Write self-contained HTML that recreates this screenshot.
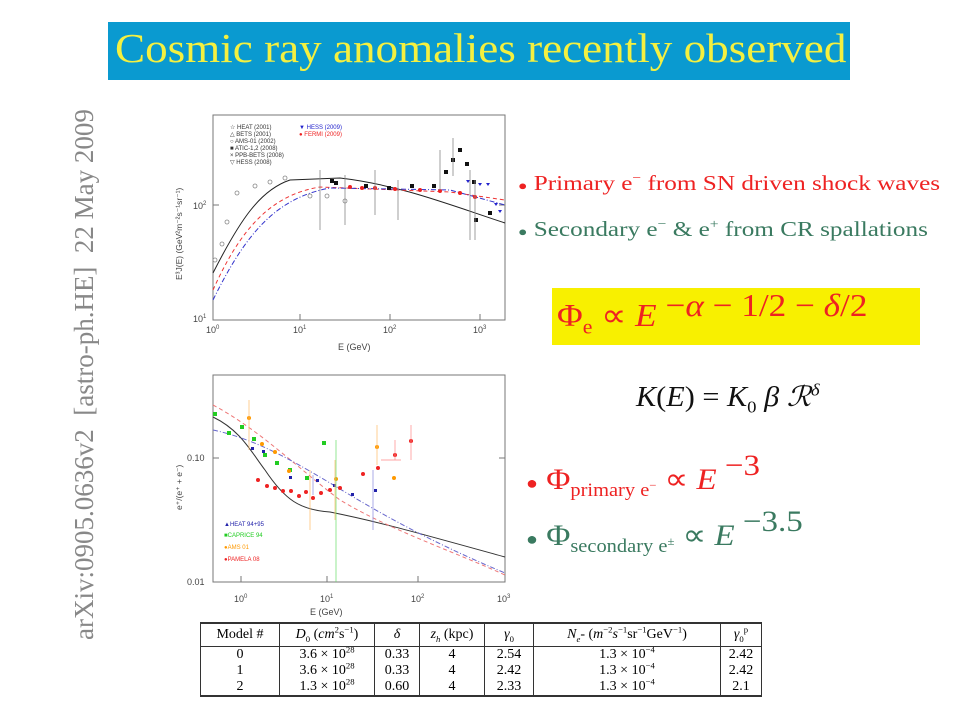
<!DOCTYPE html>
<html><head><meta charset="utf-8"><style>
body{margin:0;width:960px;height:720px;background:#fff;position:relative;overflow:hidden;font-family:"Liberation Serif",serif}
.a{position:absolute;white-space:nowrap}
sub,sup{font-size:62%}
table sub,table sup{line-height:0}
table td{padding:0 1px;height:16px}
</style></head><body>
<div class="a" style="left:108px;top:22px;width:742px;height:58px;background:#0a9ad0"></div>
<div class="a" style="left:115px;top:24px;font-size:41px;color:#f4f040;transform:scaleX(1.1);transform-origin:0 0">Cosmic ray anomalies recently observed</div>
<div class="a" style="left:64px;top:640px;transform:rotate(-90deg);transform-origin:0 0;font-size:27px;color:#888;line-height:40px">arXiv:0905.0636v2 &nbsp;[astro-ph.HE] &nbsp;22 May 2009</div>

<div class="a" style="left:518px;top:170px;font-size:21px;color:#e22;transform:scaleX(1.2);transform-origin:0 0"><span style="font-size:13px">●</span> Primary e<sup>−</sup> from SN driven shock waves</div>
<div class="a" style="left:518px;top:216px;font-size:21px;color:#3a7a60;transform:scaleX(1.2);transform-origin:0 0"><span style="font-size:13px">●</span> Secondary e<sup>−</sup> &amp; e<sup>+</sup> from CR spallations</div>
<div class="a" style="left:552px;top:288px;width:368px;height:57px;background:#f8f000"></div>
<div class="a" style="left:557px;top:296px;font-size:32px;color:#e22;transform:scaleX(1.1);transform-origin:0 0">Φ<sub>e</sub> ∝ <i>E</i><span style="position:relative;top:-10px"> −<i>α</i> − 1/2 − <i>δ</i>/2</span></div>
<div class="a" style="left:636px;top:380px;font-size:28px;color:#111;transform:scaleX(1.08);transform-origin:0 0"><i>K</i>(<i>E</i>) = <i>K</i><sub>0</sub> <i>β</i> <i>ℛ</i><sup><i>δ</i></sup></div>
<div class="a" style="left:526px;top:462px;font-size:30px;color:#e22;transform:scaleX(1.1);transform-origin:0 0"><span style="font-size:18px">●</span> Φ<sub>primary e<sup>−</sup></sub> ∝ <i>E</i><span style="position:relative;top:-14px"> −3</span></div>
<div class="a" style="left:526px;top:518px;font-size:30px;color:#3a7a60;transform:scaleX(1.1);transform-origin:0 0"><span style="font-size:18px">●</span> Φ<sub>secondary e<sup>±</sup></sub> ∝ <i>E</i><span style="position:relative;top:-14px"> −3.5</span></div>

<svg class="a" style="left:0;top:0" width="960" height="720" font-family="Liberation Sans, sans-serif">
<rect x="213" y="115" width="292" height="205" fill="none" stroke="#777" stroke-width="1"/>
<g stroke="#777"><line x1="300" y1="320" x2="300" y2="314"/><line x1="390" y1="320" x2="390" y2="314"/><line x1="480" y1="320" x2="480" y2="314"/>
<line x1="213" y1="205" x2="219" y2="205"/><line x1="499" y1="205" x2="505" y2="205"/></g>
<g font-size="9" fill="#444"><text x="206" y="333">10<tspan dy="-4" font-size="6">0</tspan></text><text x="293" y="333">10<tspan dy="-4" font-size="6">1</tspan></text><text x="383" y="333">10<tspan dy="-4" font-size="6">2</tspan></text><text x="473" y="333">10<tspan dy="-4" font-size="6">3</tspan></text>
<text x="193" y="209">10<tspan dy="-4" font-size="6">2</tspan></text><text x="193" y="322">10<tspan dy="-4" font-size="6">1</tspan></text>
<text x="338" y="350">E (GeV)</text>
<text transform="translate(182,280) rotate(-90)" font-size="8.5">E³J(E) (GeV²m⁻²s⁻¹sr⁻¹)</text></g>
<g font-size="6" fill="#333"><text x="230" y="129">☆ HEAT (2001)</text><text x="230" y="136">△ BETS (2001)</text><text x="230" y="143">○ AMS-01 (2002)</text><text x="230" y="150">■ ATIC-1,2 (2008)</text><text x="230" y="157">× PPB-BETS (2008)</text><text x="230" y="164">▽ HESS (2008)</text>
<text x="299" y="129" fill="#22c">▼ HESS (2009)</text><text x="299" y="136" fill="#e22">● FERMI (2009)</text></g>
<path d="M213,273 C240,220 260,190 290,180 L340,178 C400,185 450,205 505,223" fill="none" stroke="#222"/>
<path d="M213,290 C240,230 270,195 320,187 L450,192 L505,200" fill="none" stroke="#e33" stroke-dasharray="4,3"/>
<path d="M213,300 C245,235 275,198 330,188 L450,190 L505,205" fill="none" stroke="#33c" stroke-dasharray="5,2,1,2"/>
<g fill="#111"><rect x="334" y="181" width="4" height="4"/><rect x="364" y="184" width="4" height="4"/><rect x="387" y="186" width="4" height="4"/><rect x="410" y="184" width="4" height="4"/><rect x="432" y="184" width="4" height="4"/><rect x="444" y="170" width="4" height="4"/><rect x="451" y="158" width="4" height="4"/><rect x="458" y="148" width="4" height="4"/><rect x="465" y="162" width="4" height="4"/><rect x="472" y="180" width="4" height="4"/><rect x="474" y="218" width="4" height="4"/><rect x="488" y="211" width="4" height="4"/><rect x="330" y="179" width="4" height="4"/></g>
<g fill="#e22"><circle cx="350" cy="187" r="2"/><circle cx="362" cy="188" r="2"/><circle cx="375" cy="188" r="2"/><circle cx="395" cy="189" r="2"/><circle cx="420" cy="190" r="2"/><circle cx="440" cy="191" r="2"/><circle cx="460" cy="193" r="2"/><circle cx="475" cy="197" r="2"/></g>
<g fill="#22c"><path d="M466,180 l4,0 -2,3z"/><path d="M478,183 l4,0 -2,3z"/><path d="M486,183 l4,0 -2,3z"/><path d="M494,203 l4,0 -2,3z"/><path d="M498,210 l4,0 -2,3z"/></g>
<g fill="none" stroke="#888" stroke-width="0.8"><circle cx="227" cy="222" r="2"/><circle cx="222" cy="244" r="2"/><circle cx="215" cy="260" r="2"/><circle cx="237" cy="193" r="2"/><circle cx="255" cy="186" r="2"/><circle cx="270" cy="182" r="2"/><circle cx="285" cy="178" r="2"/><circle cx="310" cy="196" r="2"/><circle cx="327" cy="196" r="2"/><circle cx="345" cy="201" r="2"/>
<path d="M320,170 v60 M345,175 v50 M375,170 v45 M398,180 v40 M470,170 v70 M475,180 v60 M440,150 v40 M453,138 v38"/></g>

<rect x="213" y="375" width="292" height="207" fill="none" stroke="#777"/>
<g stroke="#777"><line x1="241" y1="582" x2="241" y2="576"/><line x1="327" y1="582" x2="327" y2="576"/><line x1="418" y1="582" x2="418" y2="576"/>
<line x1="213" y1="458" x2="219" y2="458"/><line x1="499" y1="458" x2="505" y2="458"/></g>
<g font-size="9" fill="#444"><text x="234" y="602">10<tspan dy="-4" font-size="6">0</tspan></text><text x="320" y="602">10<tspan dy="-4" font-size="6">1</tspan></text><text x="411" y="602">10<tspan dy="-4" font-size="6">2</tspan></text><text x="497" y="602">10<tspan dy="-4" font-size="6">3</tspan></text>
<text x="187" y="461">0.10</text><text x="187" y="585">0.01</text>
<text x="310" y="615">E (GeV)</text>
<text transform="translate(182,510) rotate(-90)" font-size="8.5">e⁺/(e⁺ + e⁻)</text></g>
<g font-size="6"><text x="224" y="526" fill="#22a">▲HEAT 94+95</text><text x="224" y="537" fill="#2c2">■CAPRICE 94</text><text x="224" y="549" fill="#f90">●AMS 01</text><text x="224" y="561" fill="#e22">●PAMELA 08</text></g>
<path d="M213,417 C240,430 250,450 265,470 C285,500 300,510 330,512 C380,522 418,533 505,557" fill="none" stroke="#333"/>
<path d="M213,405 C260,430 300,470 340,500 C390,530 450,550 505,575" fill="none" stroke="#e77" stroke-dasharray="4,3"/>
<path d="M213,430 C260,440 300,465 350,495 C400,525 450,550 505,573" fill="none" stroke="#66c" stroke-dasharray="5,2,1,2"/>
<g fill="#e22"><circle cx="258" cy="480" r="2"/><circle cx="267" cy="486" r="2"/><circle cx="275" cy="488" r="2"/><circle cx="283" cy="491" r="2"/><circle cx="291" cy="491" r="2"/><circle cx="299" cy="496" r="2"/><circle cx="306" cy="492" r="2"/><circle cx="313" cy="498" r="2"/><circle cx="321" cy="493" r="2"/><circle cx="330" cy="490" r="2"/><circle cx="340" cy="488" r="2"/><circle cx="363" cy="474" r="2"/><circle cx="378" cy="468" r="2"/><circle cx="395" cy="455" r="2"/><circle cx="411" cy="441" r="2"/></g>
<g fill="#2c2"><rect x="213" y="412" width="4" height="4"/><rect x="227" y="431" width="4" height="4"/><rect x="240" y="425" width="4" height="4"/><rect x="252" y="437" width="4" height="4"/><rect x="263" y="453" width="4" height="4"/><rect x="275" y="461" width="4" height="4"/><rect x="288" y="468" width="4" height="4"/><rect x="305" y="476" width="4" height="4"/><rect x="322" y="441" width="4" height="4"/></g>
<g fill="#22a"><rect x="251" y="447" width="3" height="3"/><rect x="262" y="450" width="3" height="3"/><rect x="289" y="476" width="3" height="3"/><rect x="316" y="479" width="3" height="3"/><rect x="333" y="484" width="3" height="3"/><rect x="351" y="493" width="3" height="3"/><rect x="374" y="489" width="3" height="3"/></g>
<g fill="#f90"><circle cx="249" cy="418" r="2"/><circle cx="262" cy="444" r="2"/><circle cx="275" cy="452" r="2"/><circle cx="289" cy="471" r="2"/><circle cx="336" cy="479" r="2"/><circle cx="377" cy="447" r="2"/><circle cx="394" cy="478" r="2"/></g>
<g stroke-width="0.7" fill="none"><path d="M336,440 v142" stroke="#6d6"/><path d="M249,400 v50 M310,470 v60 M335,460 v60 M377,425 v40" stroke="#fb6"/><path d="M373,470 v60 M313,475 v20" stroke="#88d"/><path d="M395,440 v20 M411,425 v35 M381,460 h20" stroke="#f88"/></g>
</svg>

<table class="a" style="left:200px;top:622px;border-collapse:collapse;font-size:14px;border-top:2px solid #333;border-bottom:2px solid #333;text-align:center;line-height:14px">
<tr style="border-bottom:1px solid #333"><td style="width:76px;height:22px;border-left:1px solid #333">Model #</td><td style="width:92px;border-left:1px solid #333"><i>D</i><sub>0</sub> (<i>cm</i><sup>2</sup>s<sup>−1</sup>)</td><td style="width:42px;border-left:1px solid #333"><i>δ</i></td><td style="width:62px;border-left:1px solid #333"><i>z<sub>h</sub></i> (kpc)</td><td style="width:46px;border-left:1px solid #333"><i>γ</i><sub>0</sub></td><td style="width:184px;border-left:1px solid #333"><i>N<sub>e</sub></i>- (<i>m</i><sup>−2</sup><i>s</i><sup>−1</sup>sr<sup>−1</sup>GeV<sup>−1</sup>)</td><td style="width:38px;border-left:1px solid #333;border-right:1px solid #333"><i>γ</i><sub>0</sub><sup>p</sup></td></tr>
<tr><td style="border-left:1px solid #333">0</td><td style="border-left:1px solid #333">3.6 × 10<sup>28</sup></td><td style="border-left:1px solid #333">0.33</td><td style="border-left:1px solid #333">4</td><td style="border-left:1px solid #333">2.54</td><td style="border-left:1px solid #333">1.3 × 10<sup>−4</sup></td><td style="border-left:1px solid #333;border-right:1px solid #333">2.42</td></tr>
<tr><td style="border-left:1px solid #333">1</td><td style="border-left:1px solid #333">3.6 × 10<sup>28</sup></td><td style="border-left:1px solid #333">0.33</td><td style="border-left:1px solid #333">4</td><td style="border-left:1px solid #333">2.42</td><td style="border-left:1px solid #333">1.3 × 10<sup>−4</sup></td><td style="border-left:1px solid #333;border-right:1px solid #333">2.42</td></tr>
<tr><td style="border-left:1px solid #333">2</td><td style="border-left:1px solid #333">1.3 × 10<sup>28</sup></td><td style="border-left:1px solid #333">0.60</td><td style="border-left:1px solid #333">4</td><td style="border-left:1px solid #333">2.33</td><td style="border-left:1px solid #333">1.3 × 10<sup>−4</sup></td><td style="border-left:1px solid #333;border-right:1px solid #333">2.1</td></tr>
</table>
</body></html>
